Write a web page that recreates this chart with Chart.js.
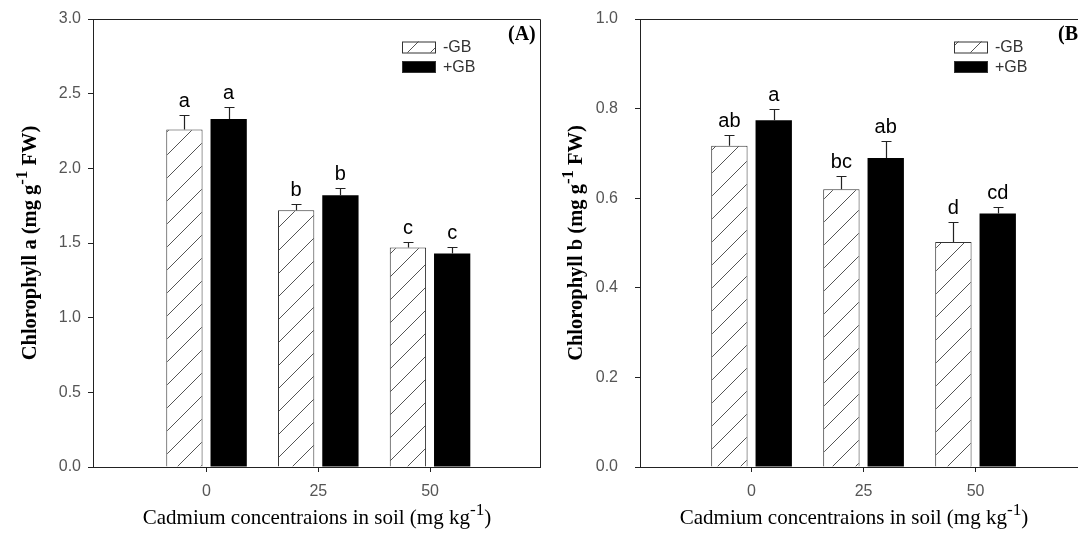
<!DOCTYPE html>
<html><head><meta charset="utf-8">
<script src="https://cdn.jsdelivr.net/npm/chart.js@4.4.1/dist/chart.umd.min.js"></script>
<style>
html,body{margin:0;padding:0;background:#fff;overflow:hidden;width:1078px;height:534px;}
#ca{position:absolute;left:0;top:0;}
#cb{position:absolute;left:540px;top:0;}
</style></head><body>
<canvas id="ca" width="548" height="534"></canvas>
<canvas id="cb" width="560" height="534"></canvas>
<script>
// ---- data ----
const cadmium = [0, 25, 50];
const seriesLabels = ['-GB', '+GB'];
const chlA_minusGB = [2.26, 1.72, 1.47];
const chlA_plusGB = [2.33, 1.82, 1.43];
const chlA_minusGB_err = [0.10, 0.04, 0.04];
const chlA_plusGB_err = [0.08, 0.05, 0.045];
const chlA_minusGB_letters = ['a', 'b', 'c'];
const chlA_plusGB_letters = ['a', 'b', 'c'];
const chlB_minusGB = [0.717, 0.620, 0.502];
const chlB_plusGB = [0.774, 0.690, 0.566];
const chlB_minusGB_err = [0.024, 0.029, 0.044];
const chlB_plusGB_err = [0.024, 0.037, 0.014];
const chlB_minusGB_letters = ['ab', 'bc', 'd'];
const chlB_plusGB_letters = ['a', 'ab', 'cd'];
const yTicksA = [0, 0.5, 1.0, 1.5, 2.0, 2.5, 3.0];
const yTicksB = [0, 0.2, 0.4, 0.6, 0.8, 1.0];
const xTitleParts = [{t: 'Cadmium concentraions in soil (mg kg'}, {t: '-1', sup: true}, {t: ')'}];
const yTitleA = [{t: 'Chlorophyll a (mg g'}, {t: '-1', sup: true}, {t: ' FW)'}];
const yTitleB = [{t: 'Chlorophyll b (mg g'}, {t: '-1', sup: true}, {t: ' FW)'}];

function makeHatch(ctx) {
  const c = document.createElement('canvas'); c.width = 23; c.height = 23;
  const g = c.getContext('2d');
  g.fillStyle = '#fff'; g.fillRect(0, 0, 23, 23);
  g.strokeStyle = '#555'; g.lineWidth = 1;
  g.beginPath();
  g.moveTo(0, 23); g.lineTo(23, 0);
  g.moveTo(-2, 2); g.lineTo(2, -2);
  g.moveTo(21, 25); g.lineTo(25, 21);
  g.stroke();
  return ctx.createPattern(c, 'repeat');
}

function drawRich(ctx, parts, x, y, size, weight, family) {
  let total = 0;
  const segs = parts.map(p => {
    const fs = p.sup ? size * 0.82 : size;
    ctx.font = weight + ' ' + fs + 'px ' + family;
    const w = ctx.measureText(p.t).width;
    total += w;
    return {t: p.t, fs: fs, w: w, dy: p.sup ? -size * 0.42 : 0};
  });
  let cx = x - total / 2;
  ctx.textAlign = 'left'; ctx.textBaseline = 'alphabetic';
  segs.forEach(s => {
    ctx.font = weight + ' ' + s.fs + 'px ' + family;
    ctx.fillText(s.t, cx, y + s.dy);
    cx += s.w;
  });
}

const decoPlugin = {
  id: 'deco',
  afterDatasetsDraw(chart, args, o) {
    const ctx = chart.ctx, ca = chart.chartArea, ys = chart.scales.y;
    ctx.save();
    // error bars and letters
    chart.data.datasets.forEach((ds, di) => {
      const meta = chart.getDatasetMeta(di);
      meta.data.forEach((bar, i) => {
        const v = ds.data[i].y, e = ds.errors[i];
        const yTop = ys.getPixelForValue(v + e), yBar = ys.getPixelForValue(v);
        const bx = Math.round(bar.x) + 0.5, yt = Math.round(yTop) + 0.5;
        ctx.strokeStyle = '#222'; ctx.lineWidth = 1.2;
        ctx.beginPath();
        ctx.moveTo(bx, yBar); ctx.lineTo(bx, yt);
        ctx.moveTo(bx - 5, yt); ctx.lineTo(bx + 5, yt);
        ctx.stroke();
        ctx.fillStyle = '#000';
        ctx.font = '20px "Liberation Sans"';
        ctx.textAlign = 'center'; ctx.textBaseline = 'alphabetic';
        ctx.fillText(ds.letters[i], bar.x, yTop - 8);
      });
    });
    // frame top & right
    ctx.strokeStyle = '#222'; ctx.lineWidth = 1;
    ctx.beginPath();
    ctx.moveTo(ca.left, Math.round(ca.top) + 0.5);
    ctx.lineTo(Math.round(ca.right) + 0.5, Math.round(ca.top) + 0.5);
    ctx.lineTo(Math.round(ca.right) + 0.5, ca.bottom);
    ctx.stroke();
    // legend
    chart.data.datasets.forEach((ds, di) => {
      const bx = ca.left + o.legendX, by = ca.top + o.legendY + di * 19.5;
      ctx.fillStyle = ds.backgroundColor;
      ctx.fillRect(bx, by, 33, 11);
      ctx.strokeStyle = '#333'; ctx.lineWidth = 1;
      ctx.strokeRect(bx + 0.5, by + 0.5, 33, 11);
      ctx.fillStyle = '#333';
      ctx.font = '16px "Liberation Sans"';
      ctx.textAlign = 'left'; ctx.textBaseline = 'middle';
      ctx.fillText(ds.label, bx + 41, by + 6.5);
    });
    // panel label
    ctx.fillStyle = '#000';
    ctx.font = 'bold 20px "Liberation Serif"';
    ctx.textAlign = 'left'; ctx.textBaseline = 'alphabetic';
    ctx.fillText(o.panel, ca.left + o.panelX, ca.top + 21);
    // x title
    drawRich(ctx, xTitleParts, ca.left + o.xTitleX, 524, 21, 'normal', '"Liberation Serif"');
    // y title
    ctx.save();
    ctx.translate(ca.left - o.yTitleOff, (ca.top + ca.bottom) / 2);
    ctx.rotate(-Math.PI / 2);
    drawRich(ctx, o.yTitle, 0, 0, 20.5, 'bold', '"Liberation Serif"');
    ctx.restore();
    ctx.restore();
  }
};

function makeChart(id, minus, plus, minusErr, plusErr, minusLet, plusLet, yMax, yTicks, cfg) {
  const canvas = document.getElementById(id);
  const ctx = canvas.getContext('2d');
  const hatch = makeHatch(ctx);
  const xMin = cfg.xMin, xMax = cfg.xMin + 100;
  return new Chart(ctx, {
    type: 'bar',
    data: {
      datasets: [
        {label: seriesLabels[0], data: cadmium.map((c, i) => ({x: c, y: minus[i]})),
         errors: minusErr, letters: minusLet,
         backgroundColor: hatch, borderColor: '#333', borderWidth: 1,
         categoryPercentage: 0.792, barPercentage: 0.82},
        {label: seriesLabels[1], data: cadmium.map((c, i) => ({x: c, y: plus[i]})),
         errors: plusErr, letters: plusLet,
         backgroundColor: '#000', borderColor: '#000', borderWidth: 0,
         categoryPercentage: 0.792, barPercentage: 0.82}
      ]
    },
    options: {
      responsive: false, animation: false, devicePixelRatio: 1,
      layout: {padding: {top: 19, right: cfg.padRight, left: 0, bottom: 0}},
      plugins: {legend: {display: false}, tooltip: {enabled: false},
        deco: cfg.deco},
      scales: {
        x: {
          type: 'linear', min: xMin, max: xMax, bounds: 'data', offset: false,
          afterBuildTicks: s => { s.ticks = cadmium.map(v => ({value: v})); s.min = xMin; s.max = xMax; },
          afterFit: s => { s.height = 67; s.paddingLeft = 0; s.paddingRight = 0; s.paddingTop = 0; s.paddingBottom = 0; },
          grid: {display: true, offset: false, drawOnChartArea: false, drawTicks: true, tickLength: 5, color: '#222', lineWidth: 1},
          border: {display: true, color: '#222', width: 1},
          ticks: {color: '#555', font: {family: 'Liberation Sans', size: 16}, padding: 10, maxRotation: 0,
            callback: v => String(v)}
        },
        y: {
          min: 0, max: yMax, bounds: 'data',
          afterBuildTicks: s => { s.ticks = yTicks.map(v => ({value: v})); s.min = 0; s.max = yMax; },
          afterFit: s => { s.width = cfg.yWidth; s.paddingTop = 0; s.paddingBottom = 0; s.paddingLeft = 0; s.paddingRight = 0; },
          grid: {display: true, drawOnChartArea: false, drawTicks: true, tickLength: 5, color: '#222', lineWidth: 1},
          border: {display: true, color: '#222', width: 1},
          ticks: {color: '#555', font: {family: 'Liberation Sans', size: 16}, padding: cfg.yPad,
            callback: v => Number(v).toFixed(1)}
        }
      }
    },
    plugins: [decoPlugin]
  });
}

makeChart('ca', chlA_minusGB, chlA_plusGB, chlA_minusGB_err, chlA_plusGB_err,
  chlA_minusGB_letters, chlA_plusGB_letters, 3.0, yTicksA,
  {padRight: 8, yWidth: 93, xMin: -25.4, yPad: 7,
   deco: {legendX: 309, legendY: 22.5, panel: '(A)', panelX: 415, xTitleX: 224, yTitle: yTitleA, yTitleOff: 57}});
makeChart('cb', chlB_minusGB, chlB_plusGB, chlB_minusGB_err, chlB_plusGB_err,
  chlB_minusGB_letters, chlB_plusGB_letters, 1.0, yTicksB,
  {padRight: 12, yWidth: 100, xMin: -24.9, yPad: 17,
   deco: {legendX: 314, legendY: 22.5, panel: '(B)', panelX: 418, xTitleX: 214, yTitle: yTitleB, yTitleOff: 58}});
</script>
</body></html>
